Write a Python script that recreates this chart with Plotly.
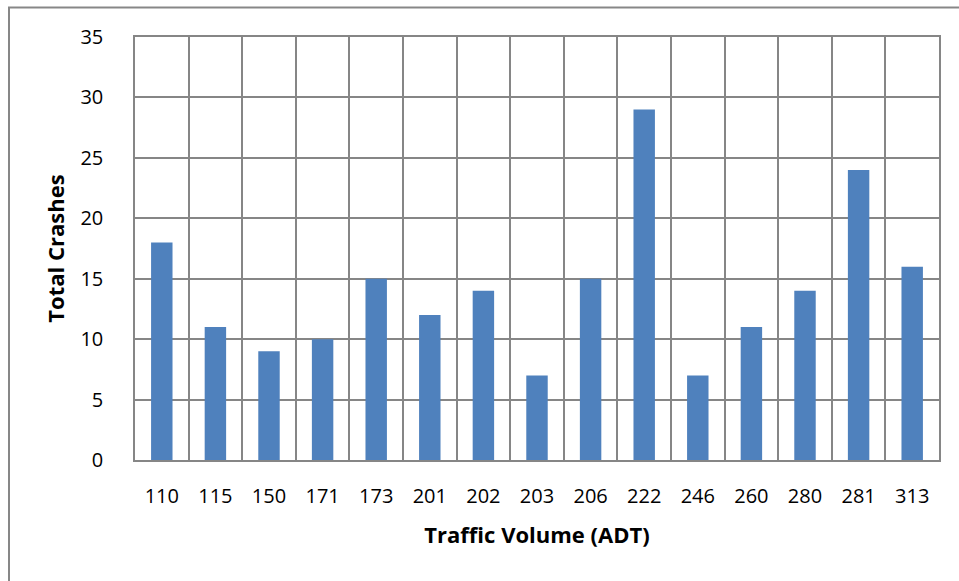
import plotly.graph_objects as go

categories = ["110", "115", "150", "171", "173", "201", "202", "203", "206", "222", "246", "260", "280", "281", "313"]
crashes = [18, 11, 9, 10, 15, 12, 14, 7, 15, 29, 7, 11, 14, 24, 16]
y_ticks = [0, 5, 10, 15, 20, 25, 30, 35]

L, R, T, B = 135, 20, 37, 121
W, H = 959, 581
pw, ph = W - L - R, H - T - B

fig = go.Figure(go.Bar(x=categories, y=crashes, marker=dict(color="#4F81BD", line=dict(width=0))))

grid = "#868686"
fig.update_layout(
    width=W, height=H,
    margin=dict(l=L, r=R, t=T, b=B, pad=0),
    paper_bgcolor="white", plot_bgcolor="white",
    bargap=0.6,
    font=dict(family="Open Sans", size=20, color="black"),
    showlegend=False,
)
fig.update_xaxes(
    type="category", tickson="boundaries", showgrid=True, gridcolor=grid, gridwidth=1.5,
    showline=True, linecolor=grid, linewidth=1.5, mirror=True,
    ticks="", ticklabelstandoff=17, tickfont=dict(size=20),
    title=dict(text="<b>Traffic Volume (ADT)</b>", standoff=20, font=dict(size=22)),
)
fig.update_yaxes(
    range=[0, 35], tickvals=y_ticks, showgrid=True, gridcolor=grid, gridwidth=1.5,
    showline=True, linecolor=grid, linewidth=1.5, mirror=True, zeroline=False,
    ticks="", ticklabelstandoff=26, tickfont=dict(size=20),
    title=dict(text="<b>Total Crashes</b>", standoff=10, font=dict(size=22)),
)
# outer chart frame
x0 = (9 - L) / pw
y1 = (H - B - 7.5) / ph
fig.add_shape(type="rect", xref="paper", yref="paper", x0=x0, x1=1.2, y0=-0.5, y1=y1,
              line=dict(color="#878787", width=2), fillcolor="rgba(0,0,0,0)", layer="below")

fig.write_html("out.html", config={"displayModeBar": False},
               post_script="document.body.style.margin='0';")
